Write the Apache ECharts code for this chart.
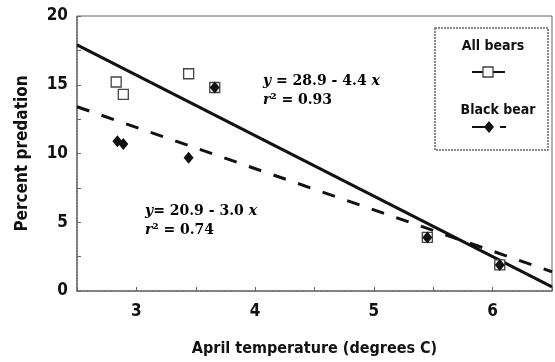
<!DOCTYPE html>
<html>
<head>
<meta charset="utf-8">
<script src="https://cdn.jsdelivr.net/npm/echarts@6/dist/echarts.min.js"></script>
<style>
  html, body { margin: 0; background: #fff; }
  #chart { width: 555px; height: 362px; }
</style>
</head>
<body>
<div id="chart"></div>
<script>
// values
var xRange = [2.5, 6.5]
var yRange = [0, 20]
var allBears = [[2.83, 15.2], [2.89, 14.3], [3.44, 15.8], [3.66, 14.8], [5.45, 3.9], [6.06, 1.9]]
var blackBear = [[2.84, 10.9], [2.89, 10.7], [3.44, 9.7], [3.66, 14.8], [5.45, 3.9], [6.06, 1.9]]
var allFit = [[2.5, 17.9], [6.5, 0.3]]
var blackFit = [[2.5, 13.4], [6.5, 1.4]]
var allEq = ['y = 28.9 - 4.4 x', 'r² = 0.93']
var blackEq = ['y= 20.9 - 3.0 x', 'r² = 0.74']

var sansBold = '"DejaVu Sans Condensed", "DejaVu Sans", sans-serif'
var serif = '"DejaVu Serif", "Liberation Serif", serif'
var axisCol = '#666'

function eqText (lines) {
  return '{i|' + lines[0].charAt(0) + '}{n|' + lines[0].slice(1, -1) + '}{i|' + lines[0].slice(-1) + '}\n' +
    '{i|r}{n|' + lines[1].slice(1) + '}'
}
var eqRich = {
  i: { fontFamily: serif, fontStyle: 'italic', fontWeight: 'bold', fontSize: 14, color: '#111', lineHeight: 19 },
  n: { fontFamily: serif, fontWeight: 'bold', fontSize: 14, color: '#111', lineHeight: 19 }
}

var chart = echarts.init(document.getElementById('chart'))
chart.setOption({
  animation: false,
  backgroundColor: '#fff',
  grid: { left: 77, top: 16, right: -9, bottom: 69, show: true, borderColor: axisCol, borderWidth: 1 },
  xAxis: {
    type: 'value',
    min: xRange[0],
    max: xRange[1],
    interval: 0.5,
    name: 'April temperature (degrees C)',
    nameLocation: 'middle',
    nameGap: 50,
    nameTextStyle: { fontFamily: sansBold, fontWeight: 'bold', fontSize: 16, color: '#111' },
    axisLine: { lineStyle: { color: axisCol, width: 1.5, type: 'dotted' } },
    axisTick: { inside: true, length: 4, lineStyle: { color: axisCol } },
    splitLine: { show: false },
    axisLabel: {
      margin: 12,
      fontFamily: sansBold, fontWeight: 'bold', fontSize: 17, color: '#111',
      formatter: function (v) { return Number.isInteger(v) ? String(v) : '' }
    }
  },
  yAxis: {
    type: 'value',
    min: yRange[0],
    max: yRange[1],
    interval: 2.5,
    name: 'Percent predation',
    nameLocation: 'middle',
    nameGap: 46,
    nameTextStyle: { fontFamily: sansBold, fontWeight: 'bold', fontSize: 17, color: '#111' },
    axisLine: { show: true, lineStyle: { color: axisCol, width: 1.5, type: 'dotted' } },
    axisTick: { show: true, inside: true, length: 4, lineStyle: { color: axisCol } },
    splitLine: { show: false },
    axisLabel: {
      margin: 9,
      fontFamily: sansBold, fontWeight: 'bold', fontSize: 17, color: '#111',
      formatter: function (v) { return v % 5 === 0 ? String(v) : '' }
    }
  },
  series: [
    {
      type: 'line',
      data: allFit,
      symbol: 'none',
      lineStyle: { color: '#111', width: 3 },
      z: 2
    },
    {
      type: 'line',
      data: blackFit,
      symbol: 'none',
      lineStyle: { color: '#111', width: 3, type: [13, 13] },
      z: 2
    },
    {
      type: 'scatter',
      data: allBears,
      symbol: 'rect',
      symbolSize: 10,
      itemStyle: { color: '#fff', borderColor: '#444', borderWidth: 1.3, opacity: 1 },
      z: 3
    },
    {
      type: 'scatter',
      data: blackBear,
      symbol: 'diamond',
      symbolSize: [10, 12],
      itemStyle: { color: '#111', opacity: 1 },
      z: 4
    }
  ],
  graphic: [
    { type: 'text', left: 263, top: 74, style: { text: eqText(allEq), rich: eqRich } },
    { type: 'text', left: 145, top: 204, style: { text: eqText(blackEq), rich: eqRich } },
    {
      type: 'rect',
      shape: { x: 435, y: 28, width: 113, height: 122 },
      style: { fill: '#fff', stroke: axisCol, lineWidth: 1.5, lineDash: [2, 1] },
      z: 10
    },
    {
      type: 'text', x: 493, y: 46, z: 11,
      style: { text: 'All bears', align: 'center', verticalAlign: 'middle', font: 'bold 14px ' + sansBold, fill: '#111' }
    },
    { type: 'line', shape: { x1: 472, y1: 72, x2: 505, y2: 72 }, style: { stroke: '#111', lineWidth: 2 }, z: 11 },
    { type: 'rect', shape: { x: 483, y: 67, width: 10, height: 10 }, style: { fill: '#fff', stroke: '#444', lineWidth: 1.3 }, z: 12 },
    {
      type: 'text', x: 498, y: 110, z: 11,
      style: { text: 'Black bear', align: 'center', verticalAlign: 'middle', font: 'bold 14px ' + sansBold, fill: '#111' }
    },
    { type: 'line', shape: { x1: 472, y1: 127, x2: 490, y2: 127 }, style: { stroke: '#111', lineWidth: 2 }, z: 11 },
    { type: 'polygon', shape: { points: [[489, 121], [494, 127], [489, 133], [484, 127]] }, style: { fill: '#111' }, z: 12 },
    { type: 'line', shape: { x1: 500, y1: 127, x2: 506, y2: 127 }, style: { stroke: '#111', lineWidth: 2 }, z: 11 }
  ]
})
</script>
</body>
</html>
